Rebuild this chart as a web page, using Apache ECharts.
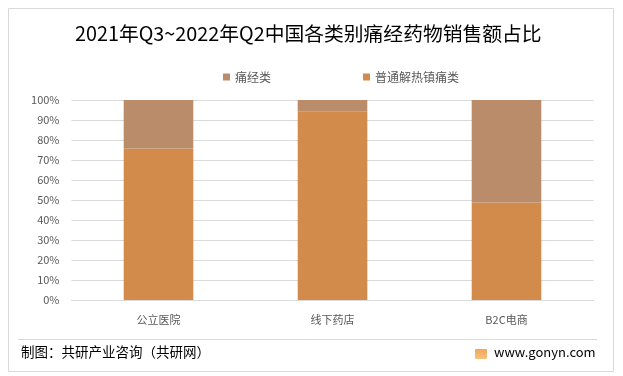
<!DOCTYPE html>
<html>
<head>
<meta charset="utf-8">
<script src="https://cdn.jsdelivr.net/npm/echarts@6/dist/echarts.min.js"></script>
<style>
  html, body { margin: 0; padding: 0; background: #fff; }
  #main { width: 623px; height: 376px; }
</style>
</head>
<body>
<div id="main"></div>
<script>
// 数据
var categories = ['公立医院', '线下药店', 'B2C电商'];
var painTypeName = '痛经类';
var painTypeValues = [24.2, 5.6, 51.3];
var commonName = '普通解热镇痛类';
var commonValues = [75.8, 94.4, 48.7];

var myChart = echarts.init(document.getElementById('main'));
var font = '"Noto Sans CJK SC", "Microsoft YaHei", sans-serif';

var option = {
  backgroundColor: '#fff',
  animation: false,
  title: {
    text: '2021年Q3~2022年Q2中国各类别痛经药物销售额占比',
    left: 70,
    top: 19,
    textStyle: { color: '#000', fontSize: 19.8, fontWeight: 'normal', fontFamily: font }
  },
  legend: {
    top: 66,
    left: 218,
    itemWidth: 7,
    itemHeight: 7,
    itemGap: 92,
    icon: 'rect',
    textStyle: { color: '#595959', fontSize: 12, fontFamily: font },
    data: [painTypeName, commonName]
  },
  grid: {
    left: 71.5,
    right: 29.5,
    top: 100,
    bottom: 76
  },
  xAxis: {
    type: 'category',
    data: categories,
    axisTick: { show: false },
    axisLine: { lineStyle: { color: '#d9d9d9' } },
    axisLabel: { color: '#595959', fontSize: 11, margin: 14, fontFamily: font }
  },
  yAxis: {
    type: 'value',
    min: 0,
    max: 100,
    interval: 10,
    axisLine: { show: false },
    axisTick: { show: false },
    splitLine: { lineStyle: { color: '#d9d9d9' } },
    axisLabel: {
      color: '#595959', fontSize: 11, margin: 12, fontFamily: font,
      formatter: '{value}%'
    }
  },
  series: [{
    name: commonName,
    type: 'bar',
    stack: 'total',
    barWidth: '40%',
    data: commonValues,
    itemStyle: { color: '#d38b4c' }
  }, {
    name: painTypeName,
    type: 'bar',
    stack: 'total',
    data: painTypeValues,
    itemStyle: { color: '#ba8c6a' }
  }],
  graphic: [
    // 外框
    { type: 'rect', left: 6, top: 6, shape: { width: 605, height: 363 },
      style: { fill: 'none', stroke: '#d9d9d9', lineWidth: 1 }, z: -1 },
    // 分隔线
    { type: 'line', shape: { x1: 18, y1: 339.5, x2: 597, y2: 339.5 },
      style: { stroke: '#d9d9d9', lineWidth: 1 } },
    { type: 'text', left: 21, top: 345,
      style: { text: '制图：共研产业咨询（共研网）', fill: '#000', fontSize: 13.5, fontFamily: font } },
    { type: 'rect', left: 475, top: 349, shape: { width: 12, height: 10, r: 1 },
      style: { fill: new echarts.graphic.LinearGradient(0, 0, 0, 1, [
        { offset: 0, color: '#f2a45a' }, { offset: 1, color: '#f7c27a' }]) } },
    { type: 'text', left: 494, top: 346,
      style: { text: 'www.gonyn.com', fill: '#000', fontSize: 13, fontFamily: font } }
  ]
};

myChart.setOption(option);
window.addEventListener('resize', function () {
  myChart.resize();
});
</script>
</body>
</html>
